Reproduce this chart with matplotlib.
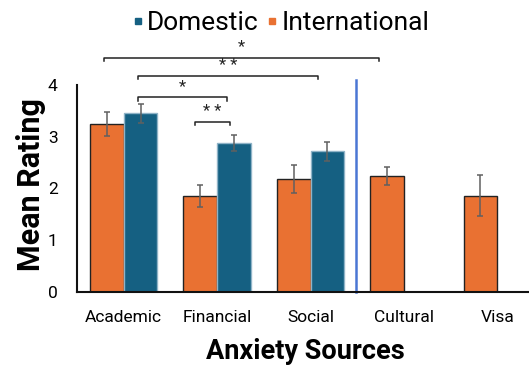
import matplotlib
matplotlib.use("Agg")
import matplotlib.pyplot as plt
from matplotlib.lines import Line2D
import numpy as np

# Anxiety sources and mean ratings (with error bars) per student group
categories = ["Academic", "Financial", "Social", "Cultural", "Visa"]
international = [3.24, 1.86, 2.18, 2.24, 1.86]
international_err = [0.23, 0.21, 0.27, 0.17, 0.40]
domestic = [3.45, 2.88, 2.72]
domestic_err = [0.18, 0.16, 0.18]
y_ticks = [0, 1, 2, 3, 4]

# Significance brackets: (left x, right x, height, label)
brackets = [
    (-0.21, 2.73, 4.53, "*"),
    (0.15, 2.08, 4.17, "* *"),
    (0.15, 1.11, 3.76, "*"),
    (0.76, 1.14, 3.28, "* *"),
]

ORANGE = "#E97132"
BLUE = "#156082"
LINE_BLUE = "#4A76D4"
ERR = "#606060"

plt.rcParams["font.family"] = ["Roboto", "DejaVu Sans"]

fig = plt.figure(figsize=(5.29, 3.65), dpi=100)
ax = fig.add_axes([77 / 529, 73 / 365, 467 / 529, 207 / 365])

x = np.arange(len(categories))
w = 0.36

ax.bar(x - w / 2, international, width=w, color=ORANGE, edgecolor="#222222",
       linewidth=1.0, zorder=2)
ax.bar(x[:len(domestic)] + w / 2, domestic, width=w, color=BLUE,
       edgecolor="#8fb3c7", linewidth=1.0, zorder=2)

ax.errorbar(x - w / 2, international, yerr=international_err, fmt="none",
            ecolor=ERR, elinewidth=1.1, capsize=2.5, capthick=1.1, zorder=3)
ax.errorbar(x[:len(domestic)] + w / 2, domestic, yerr=domestic_err, fmt="none",
            ecolor=ERR, elinewidth=1.1, capsize=2.5, capthick=1.1, zorder=3)

# Divider between shared and international-only sources
ax.plot([2.484, 2.484], [0, 4.1], color=LINE_BLUE, linewidth=1.8,
        clip_on=False, zorder=1)

for x0, x1, h, lab in brackets:
    ax.plot([x0, x0, x1, x1], [h - 0.06, h, h, h - 0.06], color="#222222",
            linewidth=1.1, clip_on=False)
    ax.text((x0 + x1) / 2, h + 0.06, lab, ha="center", va="bottom",
            fontsize=12, color="#222222")

ax.set_xlim(-0.5, 4.5)
ax.set_ylim(0, 4)
ax.set_xticks(x)
ax.set_xticklabels(categories, fontsize=12.5)
ax.set_yticks(y_ticks)
ax.set_yticklabels([str(v) for v in y_ticks], fontsize=12.5)
ax.tick_params(axis="x", length=0, pad=13)
ax.tick_params(axis="y", length=0, pad=14)

for s in ["top", "right"]:
    ax.spines[s].set_visible(False)
for s in ["left", "bottom"]:
    ax.spines[s].set_linewidth(1.5)
    ax.spines[s].set_color("#111111")

fig.text(0.059, 0.493, "Mean Rating", rotation=90, ha="center", va="center",
         fontsize=22, fontweight="bold")
fig.text(0.578, 0.036, "Anxiety Sources", ha="center", va="center",
         fontsize=19.5, fontweight="bold")

handles = [
    Line2D([], [], marker="s", linestyle="none", color=BLUE, markersize=5),
    Line2D([], [], marker="s", linestyle="none", color=ORANGE, markersize=5),
]
fig.legend(handles, ["Domestic", "International"], loc="center",
           bbox_to_anchor=(0.531, 0.937), ncol=2, frameon=False, fontsize=19,
           handlelength=0.4, handletextpad=0.15, columnspacing=0.3)

fig.savefig("out.png", dpi=100)
